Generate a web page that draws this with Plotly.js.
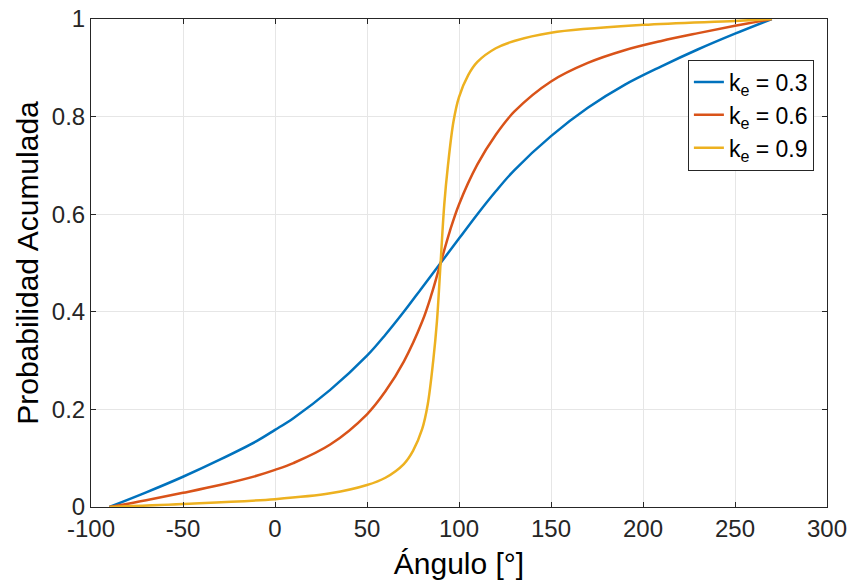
<!DOCTYPE html>
<html>
<head>
<meta charset="utf-8">
<script src="https://cdn.plot.ly/plotly-3.0.1.min.js"></script>
<style>html,body{margin:0;padding:0;background:#fff;}#chart{width:851px;height:584px;}</style>
</head>
<body>
<div id="chart"></div>
<script>
// Ángulo [°] sample points
const xBlue = [-90,-70,-50,-30,-10,0,10,30,50,60,70,80,90,100,110,120,130,150,170,190,210,230,250,270];
const yBlue = [0,0.03,0.062,0.097,0.135,0.158,0.182,0.24,0.31,0.353,0.4,0.45,0.5,0.55,0.6,0.647,0.69,0.76,0.818,0.865,0.903,0.938,0.97,1.0];

const xRed = [-90,-70,-50,-30,-10,0,10,30,50,60,70,80,85,90,95,100,110,120,130,150,170,190,210,230,250,270];
const yRed = [0,0.014,0.029,0.045,0.064,0.076,0.09,0.128,0.19,0.237,0.298,0.38,0.435,0.5,0.565,0.62,0.702,0.763,0.81,0.872,0.91,0.936,0.955,0.971,0.986,1.0];

const xYellow = [-90,-50,0,30,50,60,70,75,80,83,86,88,90,92,94,97,100,105,110,120,130,150,200,250,270];
const yYellow = [0,0.006,0.016,0.028,0.045,0.06,0.088,0.115,0.16,0.21,0.3,0.38,0.5,0.62,0.7,0.79,0.84,0.885,0.912,0.94,0.955,0.972,0.988,0.996,1.0];

const seriesNames = ['k<sub>e</sub> = 0.3','k<sub>e</sub> = 0.6','k<sub>e</sub> = 0.9'];
const colors = ['#0072BD','#D95319','#EDB120'];

const xTicks = [-100,-50,0,50,100,150,200,250,300];
const xTickText = ['-100','-50','0','50','100','150','200','250','300'];
const yTicks = [0,0.2,0.4,0.6,0.8,1];
const yTickText = ['0','0.2','0.4','0.6','0.8','1'];

const xs = [xBlue, xRed, xYellow];
const ys = [yBlue, yRed, yYellow];

const data = xs.map((x, i) => ({
  x: x, y: ys[i], type: 'scatter', mode: 'lines', name: seriesNames[i],
  line: {color: colors[i], width: 2.5, shape: 'spline', smoothing: 1}
}));

const fontFam = 'Liberation Sans, Arial, sans-serif';
const axisCommon = {
  showline: true, mirror: 'ticks', linecolor: '#262626', linewidth: 1,
  ticks: 'inside', ticklen: 5, tickcolor: '#262626',
  showgrid: true, gridcolor: '#e6e6e6', gridwidth: 1, zeroline: false,
  tickfont: {family: fontFam, size: 24, color: '#262626'}
};

const layout = {
  width: 851, height: 584,
  margin: {l: 91, r: 24, t: 19, b: 77},
  paper_bgcolor: '#fff', plot_bgcolor: '#fff',
  showlegend: true,
  legend: {
    x: 0.811, y: 0.917, xanchor: 'left', yanchor: 'top',
    bgcolor: '#fff', bordercolor: '#262626', borderwidth: 1,
    font: {family: fontFam, size: 23, color: '#000'},
    tracegroupgap: 0
  },
  xaxis: Object.assign({}, axisCommon, {
    range: [-100, 300], tickvals: xTicks, ticktext: xTickText,
    title: {text: 'Ángulo [°]', font: {family: fontFam, size: 30, color: '#000'}, standoff: 12}
  }),
  yaxis: Object.assign({}, axisCommon, {
    range: [0, 1], tickvals: yTicks, ticktext: yTickText,
    title: {text: 'Probabilidad Acumulada', font: {family: fontFam, size: 30, color: '#000'}, standoff: 4}
  })
};

Plotly.newPlot('chart', data, layout, {displayModeBar: false, staticPlot: true});
</script>
</body>
</html>
